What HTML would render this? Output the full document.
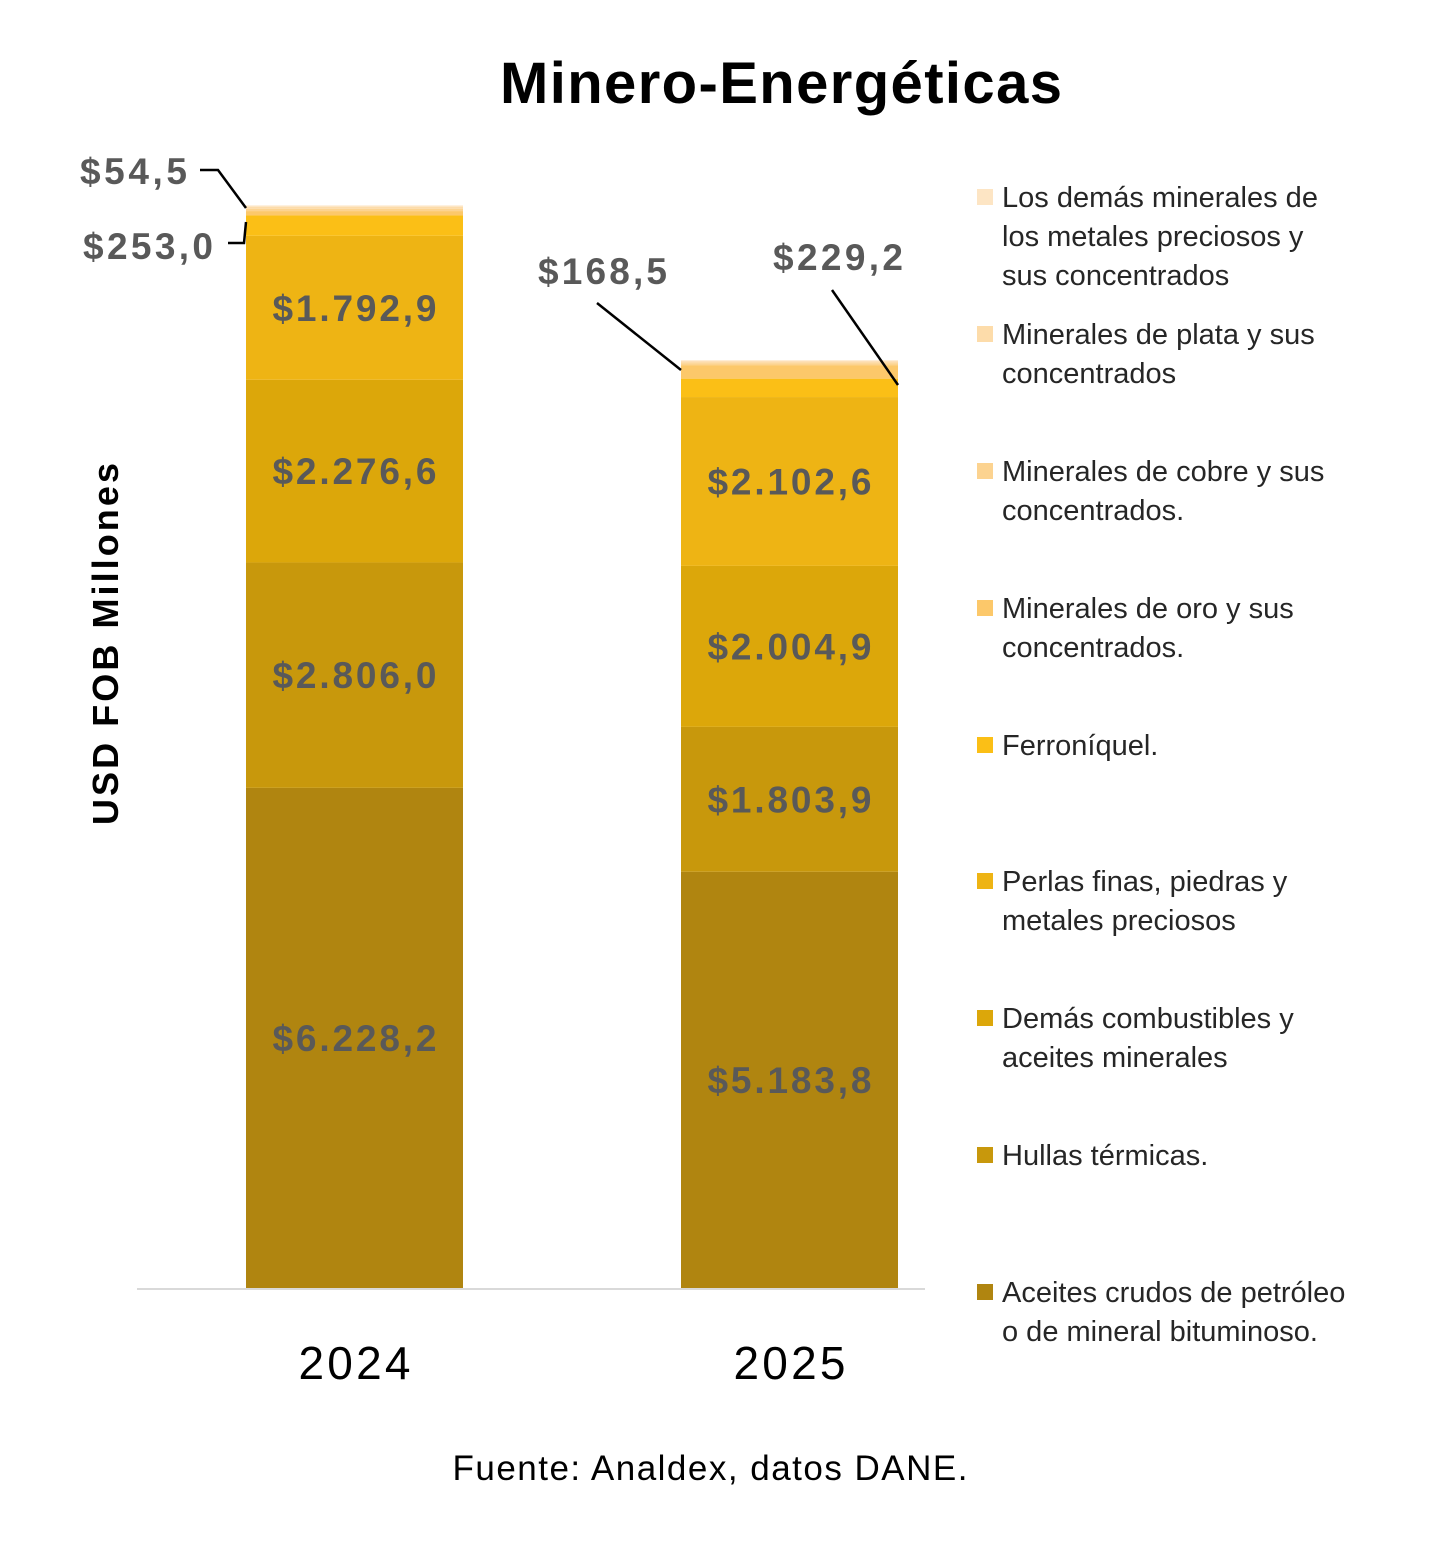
<!DOCTYPE html>
<html><head><meta charset="utf-8"><style>
body{margin:0;background:#fff;}
svg text{font-family:"Liberation Sans","DejaVu Sans",sans-serif;}
</style></head><body>
<svg width="1430" height="1539" viewBox="0 0 1430 1539" xmlns="http://www.w3.org/2000/svg">
<text x="781" y="103" text-anchor="middle" font-size="58" font-weight="bold" fill="#000" textLength="562">Minero-Energéticas</text>
<text transform="translate(118,644) rotate(-90)" text-anchor="middle" font-size="36" font-weight="bold" fill="#000" textLength="362">USD FOB Millones</text>
<g id="bars"></g>
<line x1="137" y1="1289" x2="925" y2="1289" stroke="#d9d9d9" stroke-width="2"/>
<g id="labels"></g>
<g id="legend"></g>
<text x="710" y="1480" text-anchor="middle" font-size="35" fill="#000" textLength="515">Fuente: Analdex, datos DANE.</text>
</svg>
<script>
const years = ["2024","2025"];
const seriesNames = ["Aceites crudos de petróleo|o de mineral bituminoso.","Hullas térmicas.","Demás combustibles y|aceites minerales","Perlas finas, piedras y|metales preciosos","Ferroníquel.","Minerales de oro y sus|concentrados.","Minerales de cobre y sus|concentrados.","Minerales de plata y sus|concentrados","Los demás minerales de|los metales preciosos y|sus concentrados"];
const colors = ["#b08510","#c8980c","#dca70a","#eeb414","#fbbf16","#fcc86a","#fcd390","#fddcaa","#fde5c4"];
const values2024 = [6228.2,2806.0,2276.6,1792.9,253.0,54.5,30,25,15];
const values2025 = [5183.8,1803.9,2004.9,2102.6,229.2,168.5,25,20,15];
const labels2024 = ["$6.228,2","$2.806,0","$2.276,6","$1.792,9","$253,0","$54,5"];
const labels2025 = ["$5.183,8","$1.803,9","$2.004,9","$2.102,6","$229,2","$168,5"];
const NS="http://www.w3.org/2000/svg";
const base=1288, k=0.0803;
function y(v){return base - v*k;}
const barX=[246,681], barW=217;
const bars=document.getElementById('bars'), lab=document.getElementById('labels');
function mk(tag,attrs,parent){const e=document.createElementNS(NS,tag);for(const a in attrs)e.setAttribute(a,attrs[a]);parent.appendChild(e);return e;}
[values2024,values2025].forEach((vals,bi)=>{
  let cum=0;
  const labs=bi?labels2025:labels2024;
  vals.forEach((v,si)=>{
    if(v<=0)return;
    const y0=y(cum), y1=y(cum+v);
    const r=mk('rect',{x:barX[bi],y:y1,width:barW,height:y0-y1,fill:colors[si]},bars);
    
    
    if(si<4){
      const t=mk('text',{x:barX[bi]+barW/2,y:(y0+y1)/2+13,'text-anchor':'middle','font-size':'37','font-weight':'bold',fill:'#595959',textLength:'164'},lab);
      t.textContent=labs[si];
      
      
    }
    cum+=v;
  });
  const yl=mk('text',{x:barX[bi]+barW/2,y:1379,'text-anchor':'middle','font-size':'46',fill:'#000',textLength:'112'},lab);
  yl.textContent=years[bi];
  
  
});
const callouts=[
 {t:labels2024[5],x:80,y:184,w:107,pts:"200,170 218,170 246,208"},
 {t:labels2024[4],x:83,y:259,w:130,pts:"228,243 244,243 246,222"},
 {t:labels2025[5],x:538,y:284,w:129,pts:"597,303 681,370"},
 {t:labels2025[4],x:773,y:270,w:130,pts:"832,290 898,385"}];
callouts.forEach((c,i)=>{
  const t=mk('text',{x:c.x,y:c.y,'font-size':'37','font-weight':'bold',fill:'#595959',textLength:c.w},lab);
  t.textContent=c.t;
  
  
  const p=mk('polyline',{points:c.pts,fill:'none',stroke:'#000','stroke-width':'2.5'},lab);
  
  
});
const leg=document.getElementById('legend');
const legY=[198,335,472,609,746,882,1019,1156,1293];
for(let i=0;i<9;i++){
  const si=8-i;
  const g=mk('g',{},leg);
  
  
  mk('rect',{x:977,y:legY[i]-9,width:16,height:16,fill:colors[si]},g);
  seriesNames[si].split('|').forEach((ln,li)=>{
    const t=mk('text',{x:1002,y:legY[i]+9+li*39,'font-size':'29',fill:'#262626'},g);
    t.textContent=ln;
  });
}
</script>
</body></html>
